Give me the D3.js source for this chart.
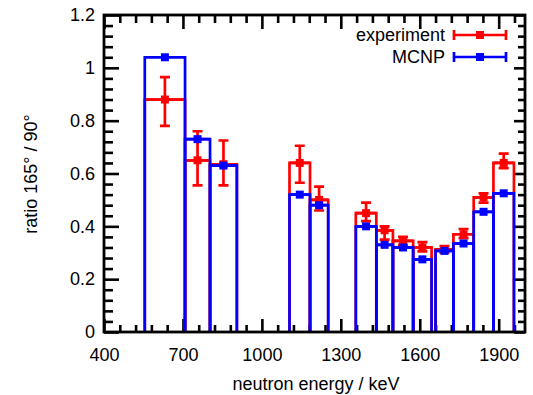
<!DOCTYPE html>
<html><head><meta charset="utf-8">
<script src="https://cdn.jsdelivr.net/npm/d3@7"></script>
<style>
body{margin:0;background:#fff;}
text{font-family:"Liberation Sans",Arial,sans-serif;}
</style></head>
<body><svg id="c" width="533" height="395"></svg>
<script>
const binLo = [555, 708, 803, 1105, 1183, 1357, 1435, 1498, 1575, 1660, 1728, 1805, 1880];
const binHi = [708, 803, 905, 1183, 1252, 1435, 1498, 1575, 1645, 1728, 1805, 1880, 1958];
const experiment = [0.88, 0.65, 0.635, 0.64, 0.50, 0.45, 0.385, 0.345, 0.32, 0.313, 0.37, 0.51, 0.64];
const expLow  = [0.78, 0.555, 0.555, 0.565, 0.46, 0.42, 0.35, 0.33, 0.305, 0.30, 0.355, 0.49, 0.62];
const expHigh = [0.965, 0.76, 0.725, 0.705, 0.55, 0.49, 0.40, 0.36, 0.34, 0.325, 0.39, 0.525, 0.675];
const mcnp = [1.04, 0.73, 0.63, 0.52, 0.48, 0.40, 0.33, 0.32, 0.275, 0.307, 0.335, 0.455, 0.525];
const xMajorTicks = [400, 700, 1000, 1300, 1600, 1900];
const yMajorTicks = [0, 0.2, 0.4, 0.6, 0.8, 1.0, 1.2];
const yTickLabels = ["0", "0.2", "0.4", "0.6", "0.8", "1", "1.2"];
const seriesNames = ["experiment", "MCNP"];
const seriesColors = ["#ff0000", "#0000ff"];

const svg = d3.select("#c");
const L = 104, R = 525, T = 15, B = 332;
const x = d3.scaleLinear().domain([400, 2000]).range([L, R]);
const y = d3.scaleLinear().domain([0, 1.2]).range([B, T]);
const FS = 18;

const xMinor = d3.range(400, 2001, 60).filter(v => !xMajorTicks.includes(v));
const yMinor = d3.range(0, 61, 2).map(v => v / 50).filter(v => !yMajorTicks.some(t => Math.abs(t - v) < 1e-9));

function styleAxis(g){ g.select(".domain").remove(); g.selectAll("line").attr("stroke","#000").attr("stroke-width",2.6); }

svg.append("g").attr("transform",`translate(0,${B})`)
  .call(d3.axisBottom(x).tickValues(xMinor).tickSize(-7).tickFormat("")).call(styleAxis);
svg.append("g").attr("transform",`translate(0,${B})`)
  .call(d3.axisBottom(x).tickValues(xMajorTicks).tickSize(-13).tickPadding(16).tickFormat(d3.format("d")))
  .call(styleAxis).call(g=>g.selectAll("text").attr("font-size",FS).attr("fill","#000").attr("font-family","Liberation Sans, Arial, sans-serif"));
svg.append("g").attr("transform",`translate(0,${T})`)
  .call(d3.axisTop(x).tickValues(xMinor).tickSize(-8).tickFormat("")).call(styleAxis);
svg.append("g").attr("transform",`translate(0,${T})`)
  .call(d3.axisTop(x).tickValues(xMajorTicks).tickSize(-14).tickFormat("")).call(styleAxis);
svg.append("g").attr("transform",`translate(${L},0)`)
  .call(d3.axisLeft(y).tickValues(yMinor).tickSize(-9).tickFormat("")).call(styleAxis);
svg.append("g").attr("transform",`translate(${L},0)`)
  .call(d3.axisLeft(y).tickValues(yMajorTicks).tickSize(-15).tickPadding(9).tickFormat((d,i)=>yTickLabels[i]))
  .call(styleAxis).call(g=>g.selectAll("text").attr("font-size",FS).attr("fill","#000").attr("font-family","Liberation Sans, Arial, sans-serif"));
svg.append("g").attr("transform",`translate(${R},0)`)
  .call(d3.axisRight(y).tickValues(yMinor).tickSize(-7).tickFormat("")).call(styleAxis);
svg.append("g").attr("transform",`translate(${R},0)`)
  .call(d3.axisRight(y).tickValues(yMajorTicks).tickSize(-11).tickFormat("")).call(styleAxis);

const idx = d3.range(binLo.length);
const boxPath = (i, v) => `M${x(binLo[i])},${y(0)}V${y(v[i])}H${x(binHi[i])}V${y(0)}`;
const LW = 2.7;
const cap = 5, ms = 4;

function boxes(vals, color){
  svg.append("g").selectAll("path").data(idx).join("path")
    .attr("d", i => boxPath(i, vals)).attr("fill","none").attr("stroke",color).attr("stroke-width",LW);
}
function errBars(vals, lo, hi, color){
  const g = svg.append("g").attr("stroke",color).attr("stroke-width",LW).attr("fill","none");
  idx.forEach(i=>{
    const cx = x((binLo[i]+binHi[i])/2), cy = y(vals[i]);
    const x0 = x(binLo[i]), x1 = x(binHi[i]);
    let d = `M${x0},${cy}H${x1}`;
    if (lo && hi){
      const y0 = y(lo[i]), y1 = y(hi[i]);
      d += `M${cx},${y0}V${y1}M${cx-cap},${y0}H${cx+cap}M${cx-cap},${y1}H${cx+cap}`;
    }
    g.append("path").attr("d", d);
    svg.append("rect").attr("x",cx-ms).attr("y",cy-ms).attr("width",2*ms).attr("height",2*ms).attr("fill",color);
  });
}
boxes(experiment, seriesColors[0]);
errBars(experiment, expLow, expHigh, seriesColors[0]);
boxes(mcnp, seriesColors[1]);
errBars(mcnp, null, null, seriesColors[1]);

svg.append("rect").attr("x",L).attr("y",T).attr("width",R-L).attr("height",B-T)
  .attr("fill","none").attr("stroke","#000").attr("stroke-width",2.8);

seriesNames.forEach((name,k)=>{
  const ly = 35 + k*22;
  svg.append("text").attr("x",445).attr("y",ly).attr("dy","0.35em").attr("text-anchor","end")
    .attr("font-size",FS).text(name);
  const g = svg.append("g").attr("stroke",seriesColors[k]).attr("stroke-width",LW);
  g.append("path").attr("d",`M454,${ly}H506M454,${ly-cap}V${ly+cap}M506,${ly-cap}V${ly+cap}`);
  svg.append("rect").attr("x",480-ms).attr("y",ly-ms).attr("width",2*ms).attr("height",2*ms).attr("fill",seriesColors[k]);
});

svg.append("text").attr("x",316).attr("y",390).attr("text-anchor","middle").attr("font-size",FS)
  .text("neutron energy / keV");
svg.append("text").attr("transform","translate(37,174) rotate(-90)").attr("text-anchor","middle")
  .attr("font-size",FS).text("ratio 165° / 90°");
</script></body></html>
